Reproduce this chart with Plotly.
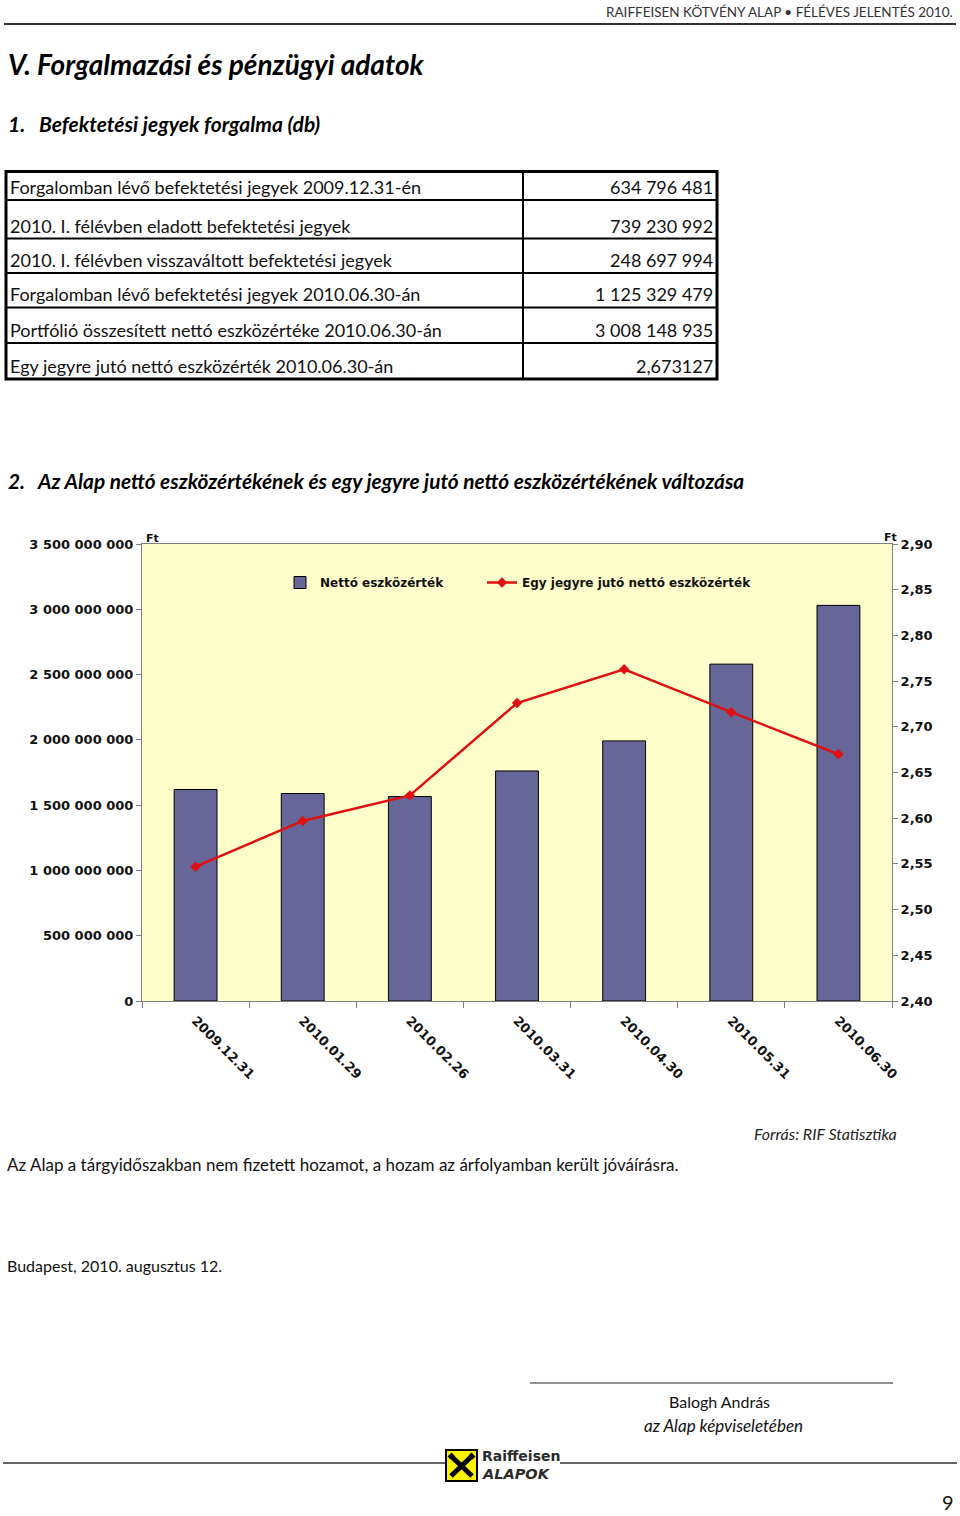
import plotly.graph_objects as go

W, H = 960, 1516

# ---------------- data ----------------
categories = ["2009.12.31", "2010.01.29", "2010.02.26", "2010.03.31",
              "2010.04.30", "2010.05.31", "2010.06.30"]
net_assets = [1.620e9, 1.589e9, 1.566e9, 1.762e9, 1.992e9, 2.580e9, 3.030e9]
per_unit = [2.547, 2.597, 2.625, 2.726, 2.763, 2.716, 2.670]

table_labels = [
    "Forgalomban lévő befektetési jegyek 2009.12.31-én",
    "2010. I. félévben eladott befektetési jegyek",
    "2010. I. félévben visszaváltott befektetési jegyek",
    "Forgalomban lévő befektetési jegyek 2010.06.30-án",
    "Portfólió összesített nettó eszközértéke 2010.06.30-án",
    "Egy jegyre jutó nettó eszközérték 2010.06.30-án",
]
table_values = ["634 796 481", "739 230 992", "248 697 994", "1 125 329 479",
                "3 008 148 935", "2,673127"]

left_ticks = [0, 5e8, 1e9, 1.5e9, 2e9, 2.5e9, 3e9, 3.5e9]

FONT = "Lato"
AXFONT = "DejaVu Sans"


def fx(x):
    return x / W


def fy(y):
    return 1 - y / H


fig = go.Figure()

fig.add_trace(go.Bar(
    x=categories, y=net_assets, name="Nettó eszközérték",
    marker=dict(color="#666699", line=dict(color="#000000", width=1)),
    yaxis="y", legend="legend",
))
fig.add_trace(go.Scatter(
    x=categories, y=per_unit, name="Egy jegyre jutó nettó eszközérték",
    mode="lines+markers",
    line=dict(color="#E01010", width=2.5),
    marker=dict(symbol="diamond", size=8, color="#E01010"),
    yaxis="y2", legend="legend2",
))

annotations = []
shapes = []


def text(t, x, y, size, xanchor="left", bold=False, italic=False, color="#111111",
         yanchor="middle", family=FONT):
    s = t
    if bold:
        s = "<b>" + s + "</b>"
    if italic:
        s = "<i>" + s + "</i>"
    annotations.append(dict(
        text=s, x=fx(x), y=fy(y), xref="paper", yref="paper",
        xanchor=xanchor, yanchor=yanchor, showarrow=False,
        font=dict(family=family, size=size, color=color),
    ))


def line(x0, y0, x1, y1, width=1, color="#000000"):
    shapes.append(dict(type="line", xref="paper", yref="paper",
                       x0=fx(x0), y0=fy(y0), x1=fx(x1), y1=fy(y1),
                       line=dict(color=color, width=width)))


# header
text("RAIFFEISEN KÖTVÉNY ALAP • FÉLÉVES JELENTÉS 2010.", 955, 12, 13.5, xanchor="right", color="#333333")
line(4, 24, 956, 24, width=2, color="#333333")

text("V. Forgalmazási és pénzügyi adatok", 6, 64, 28, bold=True, italic=True, color="#000000")
text("1.&nbsp;&nbsp;&nbsp;Befektetési jegyek forgalma (db)", 6, 123, 21, bold=True, italic=True, color="#000000")

# table
row_lines = [171.5, 200, 238.5, 273, 307.5, 343, 379]
for i, (lab, val) in enumerate(zip(table_labels, table_values)):
    yc = row_lines[i + 1] - 13
    text(lab, 8, yc, 18, color="#111111")
    text(val, 715, yc, 18, xanchor="right", color="#111111")
for yl in row_lines[1:-1]:
    line(6, yl, 717, yl, width=2)
line(523, row_lines[0], 523, row_lines[-1], width=2)
shapes.append(dict(type="rect", xref="paper", yref="paper",
                   x0=fx(6), y0=fy(row_lines[-1]), x1=fx(717), y1=fy(row_lines[0]),
                   line=dict(color="#000000", width=3)))

text("2.&nbsp;&nbsp;&nbsp;Az Alap nettó eszközértékének és egy jegyre jutó nettó eszközértékének változása",
     6, 480, 20.8, bold=True, italic=True, color="#000000")

# Ft labels
text("Ft", 144, 538, 11, bold=True, family=AXFONT)
text("Ft", 882, 537, 11, bold=True, family=AXFONT)

# footer texts
text("Forrás: RIF Statisztika", 752, 1133, 16, italic=True, color="#222222")
text("Az Alap a tárgyidőszakban nem fizetett hozamot, a hozam az árfolyamban került jóváírásra.",
     5, 1164, 17, color="#111111")
text("Budapest, 2010. augusztus 12.", 5, 1265, 16, color="#111111")
line(530, 1383, 893, 1383, width=1.2, color="#222222")
text("Balogh András", 719, 1401, 16, xanchor="center", color="#111111")
text("az Alap képviseletében", 723, 1425, 17, xanchor="center", italic=True, color="#111111")

# bottom rule and logo
line(3, 1463, 446, 1463, width=1.5, color="#333333")
line(560, 1463, 957, 1463, width=1.5, color="#333333")
shapes.append(dict(type="rect", xref="paper", yref="paper",
                   x0=fx(446), y0=fy(1481), x1=fx(477), y1=fy(1450),
                   fillcolor="#FFF200", line=dict(color="#000000", width=2)))
line(451, 1476, 472, 1456, width=5, color="#000000")
line(451, 1456, 472, 1476, width=5, color="#000000")
line(449, 1458, 453, 1454, width=4, color="#000000")
line(470, 1454, 474, 1458, width=4, color="#000000")
text("Raiffeisen", 480, 1456, 14, bold=True, color="#2b2b2b", family=AXFONT)
text("ALAPOK", 480, 1474, 14.5, bold=True, italic=True, color="#2b2b2b", family=AXFONT)
text("9", 948, 1502, 20, xanchor="center", color="#111111")

legend_common = dict(
    orientation="h", xanchor="left", yanchor="top",
    bgcolor="rgba(0,0,0,0)",
    font=dict(family=AXFONT, size=12, color="#111111", weight="bold"),
    itemwidth=30,
)

fig.update_layout(
    width=W, height=H,
    margin=dict(l=0, r=0, t=0, b=0, pad=0, autoexpand=False),
    paper_bgcolor="#FFFFFF",
    plot_bgcolor="#FFFFCC",
    separators=", ",
    showlegend=True,
    bargap=0.6,
    font=dict(family=FONT, color="#111111"),
    legend=dict(x=fx(280), y=fy(568), **legend_common),
    legend2=dict(x=fx(482), y=fy(568), **legend_common),
    xaxis=dict(
        type="category", domain=[fx(142), fx(892)], automargin=False,
        showline=True, linecolor="#808080", linewidth=1, mirror=True,
        ticks="outside", tickson="boundaries", ticklen=6, tickcolor="#808080",
        tickangle=45, showgrid=False, ticklabelstandoff=6,
        tickfont=dict(family=AXFONT, size=13, color="#111111", weight="bold"),
    ),
    yaxis=dict(
        domain=[fy(1001), fy(544)], range=[0, 3.5e9], automargin=False,
        tickvals=left_ticks, tickformat=",d",
        showline=True, linecolor="#808080", linewidth=1,
        ticks="outside", ticklen=5, tickcolor="#808080",
        showgrid=False, zeroline=False,
        tickfont=dict(family=AXFONT, size=13, color="#111111", weight="bold"),
    ),
    yaxis2=dict(
        overlaying="y", side="right", range=[2.40, 2.90], dtick=0.05, automargin=False,
        tickformat=".2f",
        showline=True, linecolor="#808080", linewidth=1,
        ticks="outside", ticklen=5, tickcolor="#808080",
        showgrid=False, zeroline=False,
        tickfont=dict(family=AXFONT, size=13, color="#111111", weight="bold"),
    ),
    annotations=annotations,
    shapes=shapes,
)

fig.write_html(
    "out.html",
    config={"displayModeBar": False},
    post_script="document.body.style.margin='0';document.body.style.padding='0';"
                "document.documentElement.style.overflow='hidden';",
)
